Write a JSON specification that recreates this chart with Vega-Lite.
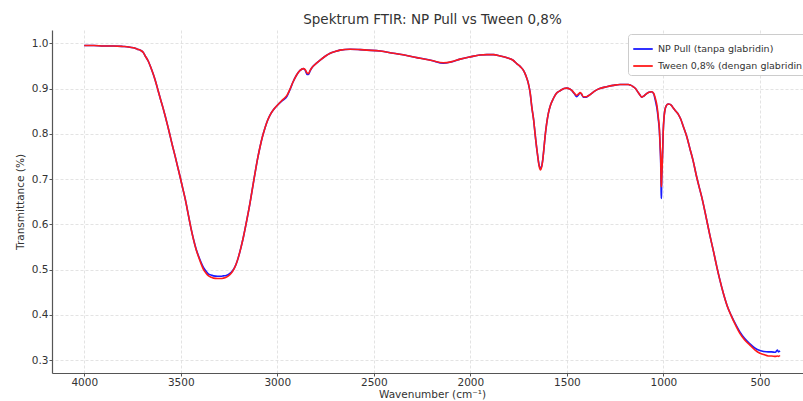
{
  "$schema": "https://vega.github.io/schema/vega-lite/v6.json",
  "width": 751,
  "height": 343,
  "autosize": {"type": "none"},
  "padding": {"left": 52, "top": 30, "right": 0, "bottom": 28},
  "background": "white",
  "config": {
    "view": {"stroke": null},
    "font": "DejaVu Sans",
    "axis": {
      "labelFont": "DejaVu Sans", "labelFontSize": 10.5, "labelColor": "#333",
      "titleFont": "DejaVu Sans", "titleFontSize": 10.5, "titleColor": "#333", "titleFontWeight": "normal",
      "domainColor": "#555", "domainWidth": 1.2, "tickColor": "#555", "tickSize": 3, "labelPadding": 1,
      "grid": true, "gridColor": "#dcdcdc", "gridDash": [3, 2], "gridWidth": 0.8
    }
  },
  "title": {"text": "Spektrum FTIR: NP Pull vs Tween 0,8%", "fontSize": 13.5, "fontWeight": "normal", "color": "#333", "font": "DejaVu Sans", "dx": 5, "offset": 4},
  "data": {"values": [
    {"wn": 4000, "a": 0.995, "b": 0.995},
    {"wn": 3950, "a": 0.995, "b": 0.995},
    {"wn": 3900, "a": 0.994, "b": 0.994},
    {"wn": 3850, "a": 0.994, "b": 0.994},
    {"wn": 3800, "a": 0.993, "b": 0.993},
    {"wn": 3770, "a": 0.992, "b": 0.992},
    {"wn": 3745, "a": 0.990, "b": 0.990},
    {"wn": 3725, "a": 0.987, "b": 0.987},
    {"wn": 3710, "a": 0.985, "b": 0.985},
    {"wn": 3695, "a": 0.980, "b": 0.980},
    {"wn": 3684, "a": 0.972, "b": 0.972},
    {"wn": 3670, "a": 0.962, "b": 0.962},
    {"wn": 3658, "a": 0.950, "b": 0.950},
    {"wn": 3645, "a": 0.935, "b": 0.935},
    {"wn": 3632, "a": 0.918, "b": 0.918},
    {"wn": 3619, "a": 0.898, "b": 0.898},
    {"wn": 3606, "a": 0.878, "b": 0.878},
    {"wn": 3593, "a": 0.859, "b": 0.859},
    {"wn": 3581, "a": 0.840, "b": 0.840},
    {"wn": 3568, "a": 0.818, "b": 0.818},
    {"wn": 3555, "a": 0.795, "b": 0.795},
    {"wn": 3542, "a": 0.772, "b": 0.772},
    {"wn": 3529, "a": 0.750, "b": 0.750},
    {"wn": 3516, "a": 0.727, "b": 0.727},
    {"wn": 3503, "a": 0.704, "b": 0.704},
    {"wn": 3490, "a": 0.680, "b": 0.680},
    {"wn": 3477, "a": 0.656, "b": 0.656},
    {"wn": 3460, "a": 0.619, "b": 0.619},
    {"wn": 3447, "a": 0.591, "b": 0.591},
    {"wn": 3434, "a": 0.567, "b": 0.566},
    {"wn": 3421, "a": 0.546, "b": 0.545},
    {"wn": 3408, "a": 0.530, "b": 0.528},
    {"wn": 3395, "a": 0.516, "b": 0.513},
    {"wn": 3382, "a": 0.504, "b": 0.500},
    {"wn": 3369, "a": 0.496, "b": 0.492},
    {"wn": 3356, "a": 0.490, "b": 0.486},
    {"wn": 3343, "a": 0.488, "b": 0.483},
    {"wn": 3331, "a": 0.486, "b": 0.481},
    {"wn": 3310, "a": 0.485, "b": 0.480},
    {"wn": 3290, "a": 0.485, "b": 0.480},
    {"wn": 3279, "a": 0.486, "b": 0.481},
    {"wn": 3265, "a": 0.487, "b": 0.483},
    {"wn": 3253, "a": 0.489, "b": 0.486},
    {"wn": 3240, "a": 0.493, "b": 0.491},
    {"wn": 3227, "a": 0.500, "b": 0.499},
    {"wn": 3214, "a": 0.511, "b": 0.511},
    {"wn": 3201, "a": 0.528, "b": 0.528},
    {"wn": 3188, "a": 0.549, "b": 0.549},
    {"wn": 3175, "a": 0.573, "b": 0.573},
    {"wn": 3158, "a": 0.609, "b": 0.609},
    {"wn": 3141, "a": 0.648, "b": 0.648},
    {"wn": 3128, "a": 0.681, "b": 0.681},
    {"wn": 3115, "a": 0.714, "b": 0.714},
    {"wn": 3102, "a": 0.745, "b": 0.745},
    {"wn": 3089, "a": 0.772, "b": 0.772},
    {"wn": 3076, "a": 0.795, "b": 0.795},
    {"wn": 3063, "a": 0.814, "b": 0.814},
    {"wn": 3050, "a": 0.830, "b": 0.830},
    {"wn": 3037, "a": 0.842, "b": 0.842},
    {"wn": 3020, "a": 0.853, "b": 0.853},
    {"wn": 3002, "a": 0.862, "b": 0.862},
    {"wn": 2980, "a": 0.871, "b": 0.872},
    {"wn": 2965, "a": 0.876, "b": 0.878},
    {"wn": 2950, "a": 0.883, "b": 0.885},
    {"wn": 2935, "a": 0.897, "b": 0.898},
    {"wn": 2918, "a": 0.915, "b": 0.915},
    {"wn": 2900, "a": 0.930, "b": 0.930},
    {"wn": 2882, "a": 0.940, "b": 0.940},
    {"wn": 2865, "a": 0.944, "b": 0.944},
    {"wn": 2856, "a": 0.941, "b": 0.942},
    {"wn": 2845, "a": 0.931, "b": 0.934},
    {"wn": 2839, "a": 0.931, "b": 0.933},
    {"wn": 2830, "a": 0.939, "b": 0.940},
    {"wn": 2821, "a": 0.946, "b": 0.946},
    {"wn": 2800, "a": 0.955, "b": 0.955},
    {"wn": 2778, "a": 0.963, "b": 0.963},
    {"wn": 2750, "a": 0.972, "b": 0.972},
    {"wn": 2726, "a": 0.978, "b": 0.978},
    {"wn": 2700, "a": 0.982, "b": 0.982},
    {"wn": 2675, "a": 0.985, "b": 0.985},
    {"wn": 2623, "a": 0.987, "b": 0.987},
    {"wn": 2571, "a": 0.986, "b": 0.986},
    {"wn": 2536, "a": 0.985, "b": 0.985},
    {"wn": 2467, "a": 0.983, "b": 0.983},
    {"wn": 2399, "a": 0.978, "b": 0.978},
    {"wn": 2330, "a": 0.973, "b": 0.973},
    {"wn": 2260, "a": 0.967, "b": 0.967},
    {"wn": 2200, "a": 0.962, "b": 0.962},
    {"wn": 2140, "a": 0.956, "b": 0.957},
    {"wn": 2100, "a": 0.959, "b": 0.959},
    {"wn": 2053, "a": 0.965, "b": 0.965},
    {"wn": 2000, "a": 0.970, "b": 0.970},
    {"wn": 1950, "a": 0.974, "b": 0.974},
    {"wn": 1915, "a": 0.975, "b": 0.975},
    {"wn": 1880, "a": 0.975, "b": 0.975},
    {"wn": 1846, "a": 0.972, "b": 0.972},
    {"wn": 1810, "a": 0.968, "b": 0.968},
    {"wn": 1777, "a": 0.962, "b": 0.962},
    {"wn": 1760, "a": 0.955, "b": 0.955},
    {"wn": 1740, "a": 0.948, "b": 0.948},
    {"wn": 1725, "a": 0.940, "b": 0.940},
    {"wn": 1712, "a": 0.928, "b": 0.928},
    {"wn": 1700, "a": 0.912, "b": 0.912},
    {"wn": 1690, "a": 0.890, "b": 0.890},
    {"wn": 1682, "a": 0.860, "b": 0.860},
    {"wn": 1672, "a": 0.830, "b": 0.830},
    {"wn": 1665, "a": 0.801, "b": 0.801},
    {"wn": 1653, "a": 0.757, "b": 0.757},
    {"wn": 1643, "a": 0.729, "b": 0.727},
    {"wn": 1637, "a": 0.724, "b": 0.720},
    {"wn": 1631, "a": 0.728, "b": 0.726},
    {"wn": 1625, "a": 0.743, "b": 0.742},
    {"wn": 1619, "a": 0.767, "b": 0.767},
    {"wn": 1613, "a": 0.794, "b": 0.794},
    {"wn": 1605, "a": 0.822, "b": 0.822},
    {"wn": 1596, "a": 0.845, "b": 0.845},
    {"wn": 1585, "a": 0.863, "b": 0.863},
    {"wn": 1570, "a": 0.878, "b": 0.878},
    {"wn": 1555, "a": 0.889, "b": 0.889},
    {"wn": 1536, "a": 0.895, "b": 0.895},
    {"wn": 1515, "a": 0.900, "b": 0.900},
    {"wn": 1501, "a": 0.901, "b": 0.901},
    {"wn": 1485, "a": 0.899, "b": 0.899},
    {"wn": 1475, "a": 0.896, "b": 0.896},
    {"wn": 1462, "a": 0.889, "b": 0.890},
    {"wn": 1449, "a": 0.882, "b": 0.885},
    {"wn": 1440, "a": 0.886, "b": 0.888},
    {"wn": 1432, "a": 0.890, "b": 0.891},
    {"wn": 1425, "a": 0.888, "b": 0.889},
    {"wn": 1415, "a": 0.881, "b": 0.882},
    {"wn": 1400, "a": 0.881, "b": 0.882},
    {"wn": 1389, "a": 0.884, "b": 0.884},
    {"wn": 1370, "a": 0.890, "b": 0.890},
    {"wn": 1354, "a": 0.895, "b": 0.895},
    {"wn": 1330, "a": 0.900, "b": 0.900},
    {"wn": 1294, "a": 0.904, "b": 0.904},
    {"wn": 1260, "a": 0.907, "b": 0.907},
    {"wn": 1225, "a": 0.909, "b": 0.909},
    {"wn": 1200, "a": 0.909, "b": 0.909},
    {"wn": 1182, "a": 0.909, "b": 0.909},
    {"wn": 1168, "a": 0.907, "b": 0.907},
    {"wn": 1156, "a": 0.904, "b": 0.904},
    {"wn": 1145, "a": 0.900, "b": 0.900},
    {"wn": 1138, "a": 0.896, "b": 0.896},
    {"wn": 1125, "a": 0.888, "b": 0.888},
    {"wn": 1112, "a": 0.881, "b": 0.881},
    {"wn": 1100, "a": 0.884, "b": 0.884},
    {"wn": 1087, "a": 0.889, "b": 0.889},
    {"wn": 1075, "a": 0.892, "b": 0.892},
    {"wn": 1061, "a": 0.893, "b": 0.893},
    {"wn": 1050, "a": 0.888, "b": 0.889},
    {"wn": 1043, "a": 0.876, "b": 0.880},
    {"wn": 1036, "a": 0.862, "b": 0.868},
    {"wn": 1032, "a": 0.852, "b": 0.858},
    {"wn": 1026, "a": 0.830, "b": 0.835},
    {"wn": 1021, "a": 0.808, "b": 0.812},
    {"wn": 1017, "a": 0.770, "b": 0.775},
    {"wn": 1014, "a": 0.735, "b": 0.745},
    {"wn": 1012, "a": 0.680, "b": 0.700},
    {"wn": 1011, "a": 0.657, "b": 0.683},
    {"wn": 1010, "a": 0.666, "b": 0.688},
    {"wn": 1009, "a": 0.695, "b": 0.700},
    {"wn": 1006, "a": 0.735, "b": 0.735},
    {"wn": 1003, "a": 0.775, "b": 0.775},
    {"wn": 1001, "a": 0.805, "b": 0.805},
    {"wn": 997, "a": 0.835, "b": 0.835},
    {"wn": 992, "a": 0.853, "b": 0.853},
    {"wn": 985, "a": 0.862, "b": 0.862},
    {"wn": 975, "a": 0.866, "b": 0.866},
    {"wn": 965, "a": 0.865, "b": 0.865},
    {"wn": 957, "a": 0.862, "b": 0.862},
    {"wn": 949, "a": 0.857, "b": 0.857},
    {"wn": 940, "a": 0.852, "b": 0.852},
    {"wn": 930, "a": 0.847, "b": 0.847},
    {"wn": 923, "a": 0.843, "b": 0.843},
    {"wn": 910, "a": 0.832, "b": 0.832},
    {"wn": 897, "a": 0.816, "b": 0.816},
    {"wn": 880, "a": 0.795, "b": 0.795},
    {"wn": 862, "a": 0.766, "b": 0.766},
    {"wn": 846, "a": 0.740, "b": 0.740},
    {"wn": 828, "a": 0.705, "b": 0.705},
    {"wn": 811, "a": 0.676, "b": 0.676},
    {"wn": 802, "a": 0.661, "b": 0.661},
    {"wn": 780, "a": 0.618, "b": 0.618},
    {"wn": 759, "a": 0.575, "b": 0.575},
    {"wn": 740, "a": 0.539, "b": 0.539},
    {"wn": 724, "a": 0.507, "b": 0.507},
    {"wn": 707, "a": 0.476, "b": 0.476},
    {"wn": 690, "a": 0.448, "b": 0.448},
    {"wn": 670, "a": 0.420, "b": 0.420},
    {"wn": 647, "a": 0.397, "b": 0.396},
    {"wn": 625, "a": 0.378, "b": 0.376},
    {"wn": 604, "a": 0.362, "b": 0.359},
    {"wn": 580, "a": 0.348, "b": 0.345},
    {"wn": 552, "a": 0.336, "b": 0.333},
    {"wn": 525, "a": 0.326, "b": 0.322},
    {"wn": 500, "a": 0.321, "b": 0.315},
    {"wn": 480, "a": 0.319, "b": 0.312},
    {"wn": 457, "a": 0.318, "b": 0.309},
    {"wn": 440, "a": 0.318, "b": 0.309},
    {"wn": 420, "a": 0.317, "b": 0.308},
    {"wn": 410, "a": 0.322, "b": 0.309},
    {"wn": 404, "a": 0.318, "b": 0.308},
    {"wn": 396, "a": 0.320, "b": 0.310}
  ]},
  "transform": [{"fold": ["a", "b"], "as": ["s", "t"]}],
  "mark": {"type": "line", "strokeWidth": 1.6, "clip": true, "interpolate": "monotone"},
  "encoding": {
    "x": {
      "field": "wn", "type": "quantitative",
      "scale": {"domain": [277, 4167], "reverse": true, "nice": false, "zero": false},
      "axis": {"values": [4000, 3500, 3000, 2500, 2000, 1500, 1000, 500], "format": "d", "title": "Wavenumber (cm⁻¹)", "titlePadding": 2, "titleX": 380}
    },
    "y": {
      "field": "t", "type": "quantitative",
      "scale": {"domain": [0.2713, 1.0294], "nice": false, "zero": false},
      "axis": {"values": [0.3, 0.4, 0.5, 0.6, 0.7, 0.8, 0.9, 1.0], "format": ".1f", "title": "Transmittance (%)", "titlePadding": 6}
    },
    "color": {
      "field": "s", "type": "nominal",
      "scale": {"domain": ["a", "b"], "range": ["#1a1aff", "#ff1a1a"]},
      "legend": {
        "title": null, "orient": "none", "legendX": 576, "legendY": 4,
        "labelExpr": "datum.label == 'a' ? 'NP Pull (tanpa glabridin)' : 'Tween 0,8% (dengan glabridin)'",
        "labelFont": "DejaVu Sans", "labelFontSize": 9.5, "labelColor": "#333",
        "symbolType": "stroke", "symbolSize": 380, "symbolStrokeWidth": 1.8,
        "fillColor": "white", "strokeColor": "#cccccc", "cornerRadius": 3, "padding": 4, "rowPadding": 1
      }
    }
  }
}
